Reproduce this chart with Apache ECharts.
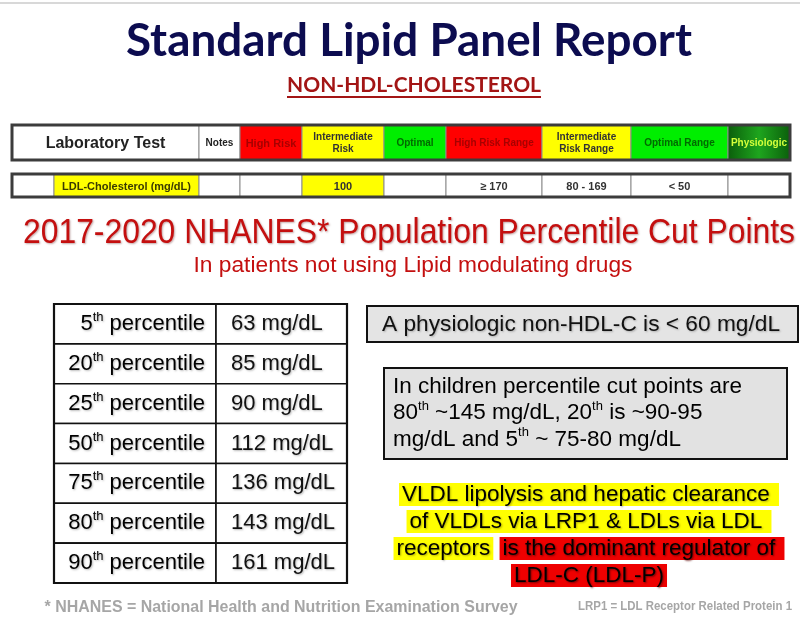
<!DOCTYPE html>
<html>
<head>
<meta charset="utf-8">
<title>Standard Lipid Panel Report</title>
<script src="https://cdn.jsdelivr.net/npm/echarts@6/dist/echarts.min.js"></script>
<style>
  html, body { margin: 0; padding: 0; background: #fff; }
  #chart { width: 800px; height: 623px; }
</style>
</head>
<body>
<div id="chart"></div>
<script>
// lab report table
const labHeaders = ['Laboratory Test', 'Notes', 'High Risk', 'Intermediate\nRisk', 'Optimal',
  'High Risk Range', 'Intermediate\nRisk Range', 'Optimal Range', 'Physiologic'];
const labRow = ['', 'LDL-Cholesterol (mg/dL)', '', '', '100', '', '≥ 170', '80 - 169', '< 50', ''];

// NHANES percentile cut points (mg/dL)
const percentiles = [5, 20, 25, 50, 75, 80, 90];
const pctValues = [63, 85, 90, 112, 136, 143, 161];

// layout / styles
const headWidths = [187, 41, 62, 82, 62, 96, 89, 97, 62];
const rowWidths = [42, 145, 41, 62, 82, 62, 96, 89, 97, 62];
const pctColWidths = [162, 131];

const physioFill = new echarts.graphic.LinearGradient(0, 0, 1, 0, [
  { offset: 0, color: '#0b5e0b' },
  { offset: 0.5, color: '#1ea51e' },
  { offset: 1, color: '#0b5e0b' }
]);
const headFills = ['#fff', '#fff', '#ff0000', '#ffff00', '#00ee00', '#ff0000', '#ffff00', '#00ee00', physioFill];
const headColors = ['#222', '#222', '#a80000', '#333', '#006a00', '#a80000', '#333', '#006a00', '#d4ff3a'];
const headSizes = [16, 10, 11, 10, 10, 10, 10, 10, 10];
const rowFills = ['#fff', '#ffff00', '#fff', '#fff', '#ffff00', '#fff', '#fff', '#fff', '#fff', '#fff'];

const measureCtx = document.createElement('canvas').getContext('2d');
function fit(text, font, width) {
  measureCtx.font = font;
  return width / measureCtx.measureText(text).width;
}

function starts(widths) {
  const s = [];
  widths.reduce((acc, w, i) => { s[i] = acc; return acc + w; }, 0);
  return s;
}

function labSeries(idx, texts, widths, fills, colors, sizes) {
  const st = starts(widths);
  return {
    type: 'custom',
    xAxisIndex: idx,
    yAxisIndex: idx,
    silent: true,
    data: texts.map((t, i) => [st[i], 0, i]),
    renderItem: function (params, api) {
      const i = api.value(2);
      const p = api.coord([st[i], 0]);
      const sz = api.size([widths[i], 1]);
      const x = p[0], y = p[1] - sz[1] / 2;
      return {
        type: 'group',
        children: [
          { type: 'rect', shape: { x: x, y: y, width: sz[0], height: sz[1] },
            style: { fill: fills[i], stroke: '#8c8c8c', lineWidth: 1 } },
          { type: 'text', style: {
              x: x + sz[0] / 2, y: y + sz[1] / 2 + 1, text: texts[i],
              align: 'center', verticalAlign: 'middle', fill: colors[i],
              font: 'bold ' + sizes[i] + 'px "Liberation Sans", Arial, sans-serif',
              lineHeight: sizes[i] + 2
            } }
        ]
      };
    }
  };
}

const pctSt = starts(pctColWidths);
const shadow = { textShadowColor: 'rgba(0,0,0,0.28)', textShadowBlur: 2, textShadowOffsetX: 1, textShadowOffsetY: 1 };
const pctRich = {
  n: Object.assign({ fontSize: 22, lineHeight: 26, fontFamily: '"Liberation Sans", Arial', color: '#111' }, shadow),
  s: Object.assign({ fontSize: 13, lineHeight: 15, fontFamily: '"Liberation Sans", Arial', color: '#111', verticalAlign: 'top' }, shadow)
};

const pctSeries = {
  type: 'custom',
  xAxisIndex: 2,
  yAxisIndex: 2,
  silent: true,
  data: percentiles.map((p, i) => [0, i, p, pctValues[i]]),
  renderItem: function (params, api) {
    const row = api.value(1);
    const kids = [];
    for (let c = 0; c < 2; c++) {
      const p = api.coord([pctSt[c], row]);
      const sz = api.size([pctColWidths[c], 1]);
      const x = p[0], y = p[1] - sz[1] / 2;
      kids.push({ type: 'rect', shape: { x: x, y: y, width: sz[0], height: sz[1] },
        style: { fill: '#fff', stroke: '#111', lineWidth: 1.6 } });
      if (c === 0) {
        kids.push({ type: 'text', style: {
          x: x + sz[0] - 11, y: y + sz[1] / 2, align: 'right', verticalAlign: 'middle',
          text: '{n|' + api.value(2) + '}{s|th}{n| percentile}', rich: pctRich } });
      } else {
        kids.push({ type: 'text', style: Object.assign({
          x: x + 15, y: y + sz[1] / 2, align: 'left', verticalAlign: 'middle',
          text: api.value(3) + ' mg/dL', fill: '#111',
          font: '22px "Liberation Sans", Arial, sans-serif' }, shadow) });
      }
    }
    return { type: 'group', children: kids };
  }
};

// fitted text helpers
const titleFont = 'bold 46px Lato, sans-serif';
const titleText = 'Standard Lipid Panel Report';
const subFont = 'bold 20px Lato, sans-serif';
const subText = 'NON-HDL-CHOLESTEROL';
const headFont = '35px "Liberation Sans", Arial, sans-serif';
const headText = '2017-2020 NHANES* Population Percentile Cut Points';
const head2Font = '22px "Liberation Sans", Arial, sans-serif';
const head2Text = 'In patients not using Lipid modulating drugs';
const box1Font = '22px "Liberation Sans", Arial, sans-serif';
const box1Text = 'A physiologic non-HDL-C is < 60 mg/dL';
const foot1Font = 'bold 17px "Liberation Sans", Arial, sans-serif';
const foot1Text = '* NHANES = National Health and Nutrition Examination Survey';
const foot2Font = 'bold 13px "Liberation Sans", Arial, sans-serif';
const foot2Text = 'LRP1 = LDL Receptor Related Protein 1';

function fitText(text, font, cx, cy, width, color, extra) {
  return {
    type: 'text', x: cx, y: cy, scaleX: fit(text, font, width),
    style: Object.assign({ text: text, font: font, fill: color, align: 'center', verticalAlign: 'middle' }, extra || {})
  };
}

const boxRich = {
  t: { fontSize: 22.5, lineHeight: 26.5, fontFamily: '"Liberation Sans", Arial', color: '#111' },
  s: { fontSize: 13, lineHeight: 14, fontFamily: '"Liberation Sans", Arial', color: '#111', verticalAlign: 'top' }
};
const hlBase = { fontSize: 22.5, lineHeight: 27, fontFamily: '"Liberation Sans", Arial' };
const hlRich = {
  y: Object.assign({ color: '#111', backgroundColor: '#ffff00', padding: [0, 3],
    textShadowColor: 'rgba(0,0,0,0.3)', textShadowBlur: 2, textShadowOffsetX: 1, textShadowOffsetY: 1 }, hlBase),
  r: Object.assign({ color: '#ffc61a', backgroundColor: '#ee0000', padding: [0, 3],
    textShadowColor: 'rgba(90,0,0,0.8)', textShadowBlur: 2, textShadowOffsetX: 1, textShadowOffsetY: 1 }, hlBase),
  g: hlBase
};

const chart = echarts.init(document.getElementById('chart'), null, { renderer: 'canvas' });
chart.setOption({
  backgroundColor: '#fff',
  animation: false,
  grid: [
    { left: 12, top: 125, width: 778, height: 35, show: true, z: 5, borderColor: '#3c3c3c', borderWidth: 3, backgroundColor: 'transparent' },
    { left: 12, top: 174, width: 778, height: 23, show: true, z: 5, borderColor: '#3c3c3c', borderWidth: 3, backgroundColor: 'transparent' },
    { left: 54, top: 304, width: 293, height: 279, show: true, z: 5, borderColor: '#111', borderWidth: 2.2, backgroundColor: 'transparent' }
  ],
  xAxis: [
    { gridIndex: 0, type: 'value', min: 0, max: 778, show: false },
    { gridIndex: 1, type: 'value', min: 0, max: 778, show: false },
    { gridIndex: 2, type: 'value', min: 0, max: 293, show: false }
  ],
  yAxis: [
    { gridIndex: 0, type: 'category', data: ['header'], show: false },
    { gridIndex: 1, type: 'category', data: ['LDL'], show: false },
    { gridIndex: 2, type: 'category', data: percentiles.map(p => p + 'th'), inverse: true, show: false }
  ],
  series: [
    labSeries(0, labHeaders, headWidths, headFills, headColors, headSizes),
    labSeries(1, labRow, rowWidths, rowFills, rowWidths.map((w, i) => i === 1 ? '#3a3a00' : '#333'), rowWidths.map(() => 11)),
    pctSeries
  ],
  graphic: [
    { type: 'line', shape: { x1: 0, y1: 3, x2: 800, y2: 3 }, style: { stroke: '#d8d8d8', lineWidth: 2 } },
    fitText(titleText, titleFont, 409, 41, 566, '#0c0c50'),
    fitText(subText, subFont, 414, 86, 254, '#a31515'),
    { type: 'line', shape: { x1: 287, y1: 97, x2: 541, y2: 97 }, style: { stroke: '#a31515', lineWidth: 2 } },
    fitText(headText, headFont, 409, 233, 772, '#c40f0f',
      { textShadowColor: 'rgba(80,0,0,0.35)', textShadowBlur: 2, textShadowOffsetX: 1, textShadowOffsetY: 1 }),
    fitText(head2Text, head2Font, 413, 266, 439, '#c40f0f'),
    // callout boxes
    { type: 'rect', shape: { x: 367, y: 306, width: 431, height: 36 }, style: { fill: '#e4e4e4', stroke: '#111', lineWidth: 2 } },
    fitText(box1Text, box1Font, 581, 325, 398, '#111',
      { textShadowColor: 'rgba(0,0,0,0.25)', textShadowBlur: 2, textShadowOffsetX: 1, textShadowOffsetY: 1 }),
    { type: 'rect', shape: { x: 384, y: 368, width: 403, height: 91 }, style: { fill: '#e2e2e2', stroke: '#111', lineWidth: 2 } },
    {
      type: 'text', x: 393, y: 413,
      style: {
        text: '{t|In children percentile cut points are}\n{t|80}{s|th}{t| ~145 mg/dL, 20}{s|th}{t| is ~90-95}\n{t|mg/dL and 5}{s|th}{t| ~ 75-80 mg/dL}',
        rich: boxRich, align: 'left', verticalAlign: 'middle'
      }
    },
    {
      type: 'text', x: 589, y: 535,
      style: {
        text: '{y|VLDL lipolysis and hepatic clearance }\n{y|of VLDLs via LRP1 & LDLs via LDL }\n{y|receptors}{g| }{r|is the dominant regulator of }\n{r|LDL-C (LDL-P)}',
        rich: hlRich, align: 'center', verticalAlign: 'middle'
      }
    },
    fitText(foot1Text, foot1Font, 281, 607, 473, '#a6a6a6'),
    fitText(foot2Text, foot2Font, 685, 606, 214, '#a6a6a6')
  ]
});
</script>
</body>
</html>
